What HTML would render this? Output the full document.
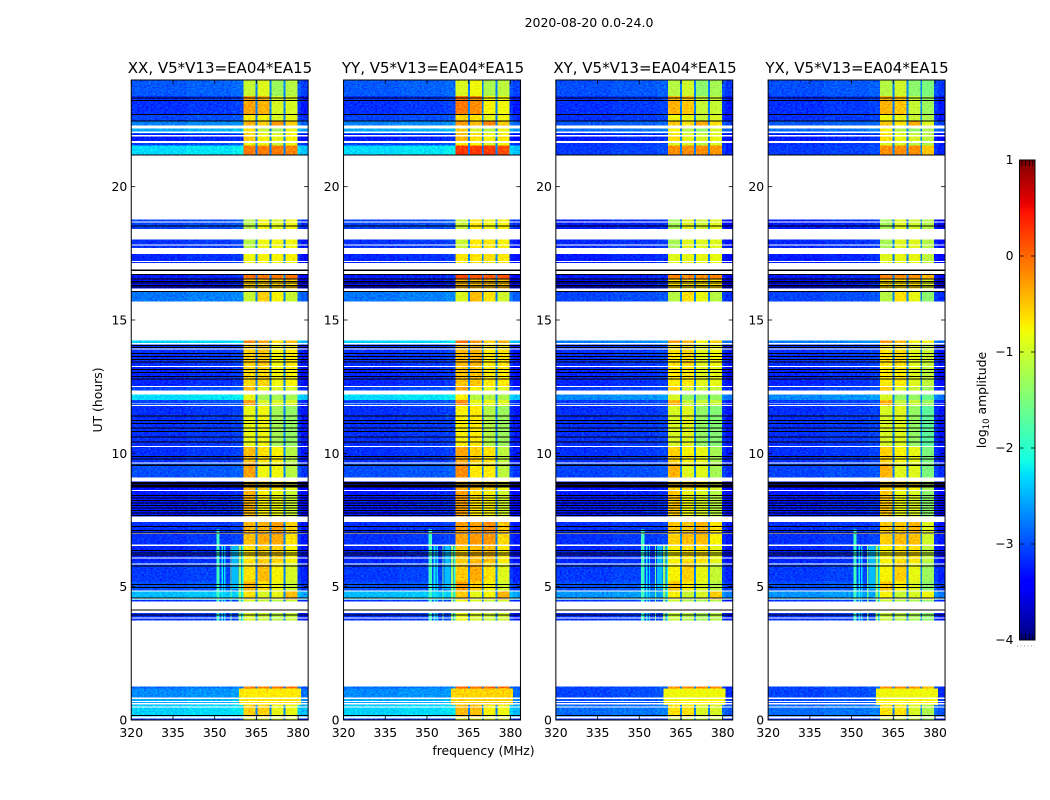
<!DOCTYPE html>
<html lang="en">
<head>
<meta charset="utf-8">
<title>2020-08-20 0.0-24.0 amplitude waterfall</title>
<style>
html,body{margin:0;padding:0;background:#fff;}
svg{display:block;}
text{font-family:"DejaVu Sans","Liberation Sans",sans-serif;fill:#000;}
</style>
</head>
<body>
<svg id="figure" xmlns="http://www.w3.org/2000/svg" width="1050" height="800" viewBox="0 0 1050 800">
  <defs>
    <filter id="speckle" x="0" y="0" width="100%" height="100%" color-interpolation-filters="sRGB">
      <feTurbulence type="fractalNoise" baseFrequency="0.45 0.7" numOctaves="1" seed="4" result="n"/>
      <feColorMatrix in="n" type="matrix" values="0 0 0 0 0.5  1 0 0 0 0  0 0 0 0 0.5  0 0 0 0 1" result="g"/>
      <feComposite in="SourceGraphic" in2="g" operator="arithmetic" k1="0" k2="1" k3="0.6" k4="-0.3" result="c"/>
      <feComposite in="c" in2="SourceAlpha" operator="in"/>
    </filter>
  </defs>
  <rect width="1050" height="800" fill="#fff"/>
  <text x="589" y="27" font-size="12.5" text-anchor="middle">2020-08-20 0.0-24.0</text>

  <g id="panel-0"></g>
  <g id="panel-1"></g>
  <g id="panel-2"></g>
  <g id="panel-3"></g>

  <text x="220" y="73" font-size="15" text-anchor="middle">XX, V5*V13=EA04*EA15</text>
  <text x="433" y="73" font-size="15" text-anchor="middle">YY, V5*V13=EA04*EA15</text>
  <text x="645" y="73" font-size="15" text-anchor="middle">XY, V5*V13=EA04*EA15</text>
  <text x="857" y="73" font-size="15" text-anchor="middle">YX, V5*V13=EA04*EA15</text>

  <text transform="translate(102,400) rotate(-90)" font-size="12.4" text-anchor="middle">UT (hours)</text>
  <text x="483.5" y="755" font-size="12.4" text-anchor="middle">frequency (MHz)</text>

  <g id="colorbar"></g>
  <text transform="translate(986,400) rotate(-90)" font-size="12.4" text-anchor="middle">log<tspan font-size="8.5" dy="3">10</tspan><tspan dy="-3"> amplitude</tspan></text>
</svg>

<script>
// ---------- chart data (hours, MHz, log10 amplitude) ----------
const xTickValues = [320, 335, 350, 365, 380];
const yTickValues = [0, 5, 10, 15, 20];
const colorbarTicks = [1, 0, -1, -2, -3, -4];
const colorbarTickLabels = ['1', '0', '\u22121', '\u22122', '\u22123', '\u22124'];

// time bands: one entry per band, same index across arrays
const bandTop =     [24.0,23.4,22.7,22.47,22.3,22.0,21.72,21.55,18.8,18.01,17.47,16.9,16.55,16.19,14.23,14.1,13.3,12.5,12.21,12.0,11.8,10.25,9.65,8.95,8.6,7.42,7.0,6.55,5.9,5.2,4.85,4.5,1.26,1.18,0.84,0.56,0.13];
const bandBottom =  [23.4,22.7,22.47,22.3,22.0,21.72,21.55,21.17,18.4,17.47,16.9,16.55,16.19,15.7,14.1,13.3,12.5,12.21,12.0,11.8,10.25,9.65,9.1,8.6,7.64,7.0,6.55,5.9,5.2,4.85,4.5,3.73,1.18,0.84,0.56,0.13,0.0];
const lowParallel = [-2.95,-3.15,-3.05,-2.75,-2.55,-3.25,-3.05,-2.3,-3.05,-3.15,-3.2,-3.25,-3.3,-2.8,-2.35,-3.15,-3.2,-3.05,-2.3,-3.05,-3.15,-3.15,-3.0,-3.3,-3.25,-3.15,-3.15,-3.2,-3.1,-3.0,-2.45,-3.15,-2.85,-2.7,-2.55,-2.35,-3.15];
const lowCross =    [-3.0,-3.15,-3.15,-2.95,-2.85,-3.25,-3.15,-3.1,-3.25,-3.2,-3.25,-3.25,-3.3,-3.05,-2.75,-3.15,-3.2,-3.1,-2.7,-3.1,-3.15,-3.15,-3.05,-3.3,-3.25,-3.15,-3.15,-3.2,-3.1,-3.0,-2.65,-3.15,-3.05,-3.05,-3.0,-2.85,-3.15];
const subband1 =    [-1.05,-0.3,-0.7,-0.4,-0.65,-0.55,-0.85,-0.1,-1.15,-1.15,-0.8,-0.05,-0.55,-1.05,-0.15,-0.55,-0.6,-0.45,-0.85,-0.3,-0.85,-0.45,-0.3,-0.45,-0.4,-0.4,-0.45,-0.65,-0.65,-0.4,-0.65,-0.95,-0.1,-0.7,-0.65,-0.55,-0.95];
const subband2 =    [-0.9,-0.4,-0.75,-0.55,-1.05,-0.75,-0.85,-0.1,-0.8,-0.8,-0.75,-0.1,-0.55,-0.55,-0.35,-0.5,-0.6,-0.85,-1.25,-0.95,-0.8,-0.65,-0.8,-0.55,-0.75,-0.4,-0.35,-0.55,-0.45,-0.65,-0.95,-1.05,-0.1,-0.7,-0.65,-0.55,-0.95];
const subband3 =    [-1.3,-0.95,-0.95,-0.25,-1.25,-0.85,-1.05,-0.1,-0.9,-0.8,-0.75,-0.1,-0.55,-0.75,-0.65,-0.8,-0.8,-0.95,-1.25,-0.95,-1.25,-0.75,-0.8,-0.65,-0.85,-0.3,-0.35,-0.55,-0.75,-0.85,-0.85,-1.15,-0.1,-0.7,-0.65,-0.85,-0.95];
const subband4 =    [-1.15,-0.95,-0.85,-0.55,-0.85,-0.75,-0.85,-0.15,-0.8,-0.8,-0.75,-0.05,-0.55,-1.05,-0.45,-0.7,-0.75,-0.95,-1.25,-0.95,-1.35,-1.15,-1.15,-0.85,-1.05,-0.55,-0.65,-0.75,-0.95,-1.05,-0.45,-1.05,-0.1,-0.7,-0.65,-0.85,-0.95];
const yyBoost =     [0,0.1,0,0,0,0,0,0.25,0,0,0,0.1,0,0,0,0,0,0,0,0,0,0,0,0,0,0,0,0,0,0,0,0,0,0,0,0,0];
const wideBand =    [0,0,0,0,0,0,0,0,0,0,0,0,0,0,0,0,0,0,0,0,0,0,0,0,0,0,0,0,0,0,0,0,0,1,1,0,0];

// frequency channels: edges in MHz and what each channel holds
const channelEdges = [320,340,356.3,358.7,360.3,364.7,365.4,369.7,370.4,374.7,375.4,379.7,381,383.6];
const channelKinds = ['low','low','low','shoulder','s0','notch','s1','notch','s2','notch','s3','shoulder','edge'];
const channelLowOffset = [0,0.05,0.1,0.1,0,0,0,0,0,0,0,0,-0.12];
const notchLevel = -2.75;

// per polarisation subband offsets: XX, YY, XY, YX
const offsetsXX = [0,0,0,0];
const offsetsYY = [0.12,0.1,0.1,0.05];
const offsetsXY = [-0.1,-0.1,-0.1,-0.1];
const offsetsYX = [-0.1,-0.1,-0.1,-0.35];

// interference stripes
const rfiFreqStart = [350.6,352.4,353.4,355.6,356.3,358.6,359.7];
const rfiFreqEnd =   [351.8,353.0,353.9,356.0,358.4,359.5,360.3];
const rfiTimeTop =   [7.15,6.55,6.55,6.55,6.55,6.55,6.55];
const rfiTimeEnd =   [3.73,3.73,3.73,3.73,4.9,3.73,3.73];
const rfiLevel =     [-1.9,-2.2,-2.3,-1.6,-2.45,-1.35,-2.1];

// empty (white) time ranges
const gapTop =    [22.30,22.07,21.94,21.72,21.17,18.69,18.42,17.83,17.70,17.22,17.13,16.85,16.19,15.70,14.13,13.93,13.28,12.52,12.35,11.89,11.82,10.28,9.65,9.07,8.63,7.64,7.00,6.58,6.10,5.87,4.86,4.56,4.44,4.11,3.84,3.73,0.84,0.72,0.63,0.51,0.13];
const gapBottom = [22.19,22.02,21.88,21.63,18.77,18.65,18.01,17.79,17.47,17.18,16.90,16.70,16.07,14.23,14.09,13.89,13.23,12.48,12.21,11.86,11.78,10.24,9.62,8.95,8.58,7.42,6.97,6.53,6.06,5.83,4.82,4.52,4.14,4.02,3.81,1.26,0.79,0.68,0.58,0.46,0.05];

// fully black (flagged) rows
const blackRows = [23.32,23.23,22.71,22.47,21.18,18.52,16.88,16.86,16.70,16.54,16.44,16.38,16.30,16.23,16.06,14.05,13.97,13.74,13.64,13.52,13.42,13.15,13.04,12.89,12.78,11.40,11.23,11.11,10.95,10.82,10.62,10.42,9.88,9.79,9.57,9.54,8.90,8.86,8.82,8.78,8.74,8.42,8.32,8.23,8.13,8.04,7.95,7.85,7.76,7.67,7.25,7.10,7.02,6.36,6.27,6.18,5.77,5.08,4.96,4.58,4.12,3.94,0.16];

// ---------- axis functions ----------
const NS = 'http://www.w3.org/2000/svg';
const plotTop = 80, plotBottom = 720, plotWidth = 176.9, panelStep = 212.3, firstLeft = 131.25;
const timeMax = 24, freqMin = 320, freqMax = 383.6;
const cbarTop = 160, cbarBottom = 640, cbarLeft = 1019.5, cbarRight = 1035;
const cbarMin = -4, cbarMax = 1;

function panelLeft(p) { return firstLeft + p * panelStep; }
function xScale(p, mhz) { return panelLeft(p) + (mhz - freqMin) / (freqMax - freqMin) * plotWidth; }
function yScale(h) { return plotBottom - h / timeMax * (plotBottom - plotTop); }
function cbarY(v) { return cbarBottom - (v - cbarMin) / (cbarMax - cbarMin) * (cbarBottom - cbarTop); }

function interp(t, xs, ys) {
  for (let i = 1; i < xs.length; i++) {
    if (t <= xs[i]) return ys[i - 1] + (t - xs[i - 1]) / (xs[i] - xs[i - 1]) * (ys[i] - ys[i - 1]);
  }
  return ys[ys.length - 1];
}
function jet(v) {
  const t = Math.max(0, Math.min(1, (v - cbarMin) / (cbarMax - cbarMin)));
  const r = interp(t, [0, .35, .66, .89, 1], [0, 0, 1, 1, .5]);
  const g = interp(t, [0, .125, .375, .64, .91, 1], [0, 0, 1, 1, 0, 0]);
  const b = interp(t, [0, .11, .34, .65, 1], [.5, 1, 1, 0, 0]);
  return 'rgb(' + Math.round(r * 255) + ',' + Math.round(g * 255) + ',' + Math.round(b * 255) + ')';
}
function make(tag, parent, attrs) {
  const el = document.createElementNS(NS, tag);
  for (const k in attrs) el.setAttribute(k, attrs[k]);
  parent.appendChild(el);
  return el;
}

const panelOffsets = [offsetsXX, offsetsYY, offsetsXY, offsetsYX];
const subbands = [subband1, subband2, subband3, subband4];

function cellLevel(p, b, c) {
  const kind = channelKinds[c];
  const low = (p < 2 ? lowParallel[b] : lowCross[b]) + channelLowOffset[c];
  if (kind === 'low' || kind === 'edge') return low;
  if (wideBand[b]) return subbands[0][b] + panelOffsets[p][0] + (p === 1 ? yyBoost[b] : 0);
  if (kind === 'shoulder') return low;
  if (kind === 'notch') return notchLevel;
  const s = Number(kind.charAt(1));
  return subbands[s][b] + panelOffsets[p][s] + (p === 1 ? yyBoost[b] : 0);
}

// ---------- panels ----------
[0, 1, 2, 3].forEach(function (p) {
  const panel = document.getElementById('panel-' + p);

  const cells = make('g', panel, { filter: 'url(#speckle)', 'shape-rendering': 'crispEdges' });
  
  
  bandTop.forEach(function (top, b) {
    channelKinds.forEach(function (kind, c) {
      const x0 = xScale(p, channelEdges[c]);
      const x1 = xScale(p, channelEdges[c + 1]);
      const y0 = yScale(top);
      const y1 = yScale(bandBottom[b]);
      const cell = make('rect', cells, { x: x0, y: y0, width: x1 - x0 + 0.3, height: y1 - y0 + 0.3, fill: jet(cellLevel(p, b, c)) });
      
      
    });
  });

  const rfi = make('g', panel, { 'shape-rendering': 'crispEdges' });
  
  
  rfiLevel.forEach(function (lv, i) {
    const x0 = xScale(p, rfiFreqStart[i]);
    const x1 = xScale(p, rfiFreqEnd[i]);
    const y0 = yScale(rfiTimeTop[i]);
    const y1 = yScale(rfiTimeEnd[i]);
    const stripe = make('rect', rfi, { x: x0, y: y0, width: x1 - x0, height: y1 - y0, fill: jet(lv) });
    
    
  });

  const gaps = make('g', panel, { 'shape-rendering': 'crispEdges' });
  
  
  gapTop.forEach(function (top, i) {
    const y0 = yScale(top);
    const y1 = yScale(gapBottom[i]);
    const gap = make('rect', gaps, { x: xScale(p, freqMin), y: y0, width: plotWidth, height: y1 - y0, fill: '#fff' });
    
    
  });

  const flagged = make('g', panel, { 'shape-rendering': 'crispEdges' });
  
  
  blackRows.forEach(function (h) {
    const row = make('rect', flagged, { x: xScale(p, freqMin), y: yScale(h) - 0.5, width: plotWidth, height: 1, fill: '#000' });
    
    
  });

  const frame = make('rect', panel, { x: panelLeft(p), y: plotTop, width: plotWidth, height: plotBottom - plotTop, fill: 'none', stroke: '#000', 'stroke-width': 1 });
  
  

  xTickValues.forEach(function (v) {
    const x = xScale(p, v);
    const t1 = make('line', panel, { x1: x, x2: x, y1: plotBottom, y2: plotBottom - 4, stroke: '#000', 'stroke-width': 0.8 });
    
    
    const t2 = make('line', panel, { x1: x, x2: x, y1: plotTop, y2: plotTop + 4, stroke: '#000', 'stroke-width': 0.8 });
    
    
    const lab = make('text', panel, { x: x, y: 737, 'font-size': 12.4, 'text-anchor': 'middle' });
    lab.textContent = String(v);
    
    
  });

  yTickValues.forEach(function (v) {
    const y = yScale(v);
    const t1 = make('line', panel, { x1: panelLeft(p), x2: panelLeft(p) + 4, y1: y, y2: y, stroke: '#000', 'stroke-width': 0.8 });
    
    
    const t2 = make('line', panel, { x1: panelLeft(p) + plotWidth, x2: panelLeft(p) + plotWidth - 4, y1: y, y2: y, stroke: '#000', 'stroke-width': 0.8 });
    
    
    const lab = make('text', panel, { x: panelLeft(p) - 4, y: y + 4.5, 'font-size': 12.4, 'text-anchor': 'end' });
    lab.textContent = String(v);
    
    
  });
});

// ---------- colorbar ----------
const cbar = document.getElementById('colorbar');
const ramp = make('g', cbar, { 'shape-rendering': 'crispEdges' });


for (let py = cbarTop; py < cbarBottom; py += 2) {
  const val = cbarMin + (cbarBottom - py - 1) / (cbarBottom - cbarTop) * (cbarMax - cbarMin);
  const seg = make('rect', ramp, { x: cbarLeft, y: py, width: cbarRight - cbarLeft, height: 2, fill: jet(val) });
  
  
}
const cbarFrame = make('rect', cbar, { x: cbarLeft, y: cbarTop, width: cbarRight - cbarLeft, height: cbarBottom - cbarTop, fill: 'none', stroke: '#000', 'stroke-width': 1 });


colorbarTicks.forEach(function (v, i) {
  const y = cbarY(v);
  const a = make('line', cbar, { x1: cbarLeft, x2: cbarLeft + 4, y1: y, y2: y, stroke: '#000', 'stroke-width': 0.8 });
  
  
  const b = make('line', cbar, { x1: cbarRight, x2: cbarRight - 4, y1: y, y2: y, stroke: '#000', 'stroke-width': 0.8 });
  
  
  const lab = make('text', cbar, { x: cbarLeft - 6, y: y + 4, 'font-size': 12.4, 'text-anchor': 'end' });
  lab.textContent = colorbarTickLabels[i];
  
  
});
for (let mx = cbarLeft + 2.5; mx < cbarRight - 1; mx += 3.6) {
  const mt = make('line', cbar, { x1: mx, x2: mx, y1: cbarTop, y2: cbarTop + 6, stroke: '#000', 'stroke-width': 0.8 });
  
  
  const mb = make('line', cbar, { x1: mx, x2: mx, y1: cbarBottom, y2: cbarBottom - 6, stroke: '#000', 'stroke-width': 0.8 });
  
  
}
const dots = make('line', cbar, { x1: 1017, x2: 1035, y1: 646, y2: 646, stroke: '#999', 'stroke-width': 1, 'stroke-dasharray': '1 2.5' });


</script>
</body>
</html>
